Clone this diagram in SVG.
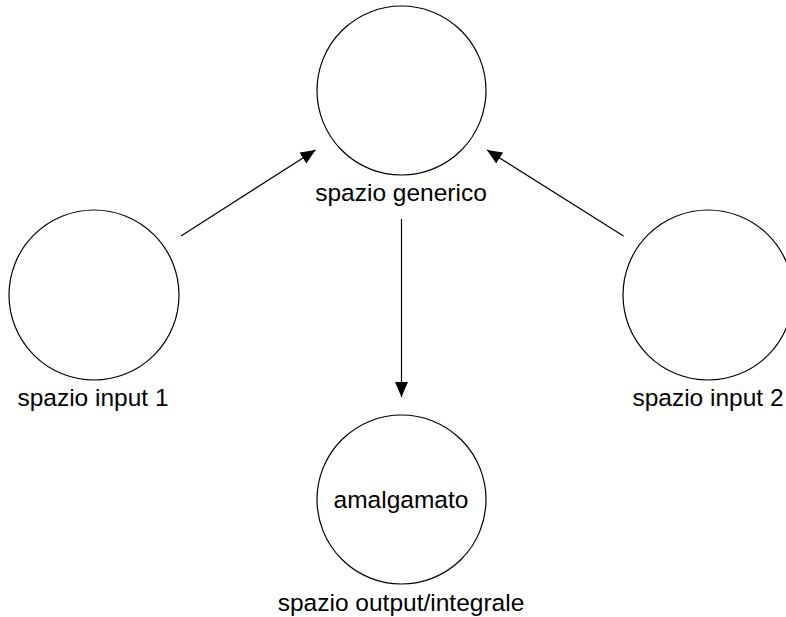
<svg xmlns="http://www.w3.org/2000/svg" width="786" height="617" viewBox="0 0 786 617">
  <style>
    .node { fill: #ffffff; stroke: #000000; stroke-width: 1.2; }
    .lbl { font-family: "Liberation Sans", Arial, sans-serif; font-size: 24.5px; fill: #000000; text-anchor: middle; }
    .edge { stroke: #000000; stroke-width: 1.2; fill: none; }
  </style>
  <defs>
    <marker id="arrow" markerUnits="userSpaceOnUse" markerWidth="16" markerHeight="14" refX="15" refY="6.5" orient="auto">
      <path d="M0,0 L15,6.5 L0,13 Z" fill="#000000"/>
    </marker>
  </defs>
  <rect x="0" y="0" width="786" height="617" fill="#ffffff"/>
  <g id="connectors">
    <line class="edge" x1="181" y1="236" x2="315.5" y2="150" marker-end="url(#arrow)"/>
    <line class="edge" x1="623.5" y1="236" x2="487" y2="150" marker-end="url(#arrow)"/>
    <line class="edge" x1="401.5" y1="219" x2="401.5" y2="397" marker-end="url(#arrow)"/>
  </g>
  <g id="generic">
    <circle class="node" cx="401.5" cy="90.5" r="84.5"/>
    <text class="lbl" x="401" y="201">spazio generico</text>
  </g>
  <g id="input1">
    <circle class="node" cx="94" cy="295" r="85"/>
    <text class="lbl" x="93" y="406">spazio input 1</text>
  </g>
  <g id="input2">
    <circle class="node" cx="708" cy="295" r="85"/>
    <text class="lbl" x="708" y="406">spazio input 2</text>
  </g>
  <g id="output">
    <circle class="node" cx="401.5" cy="499.5" r="84.5"/>
    <text class="lbl" x="401" y="508">amalgamato</text>
    <text class="lbl" x="401" y="611">spazio output/integrale</text>
  </g>
</svg>
